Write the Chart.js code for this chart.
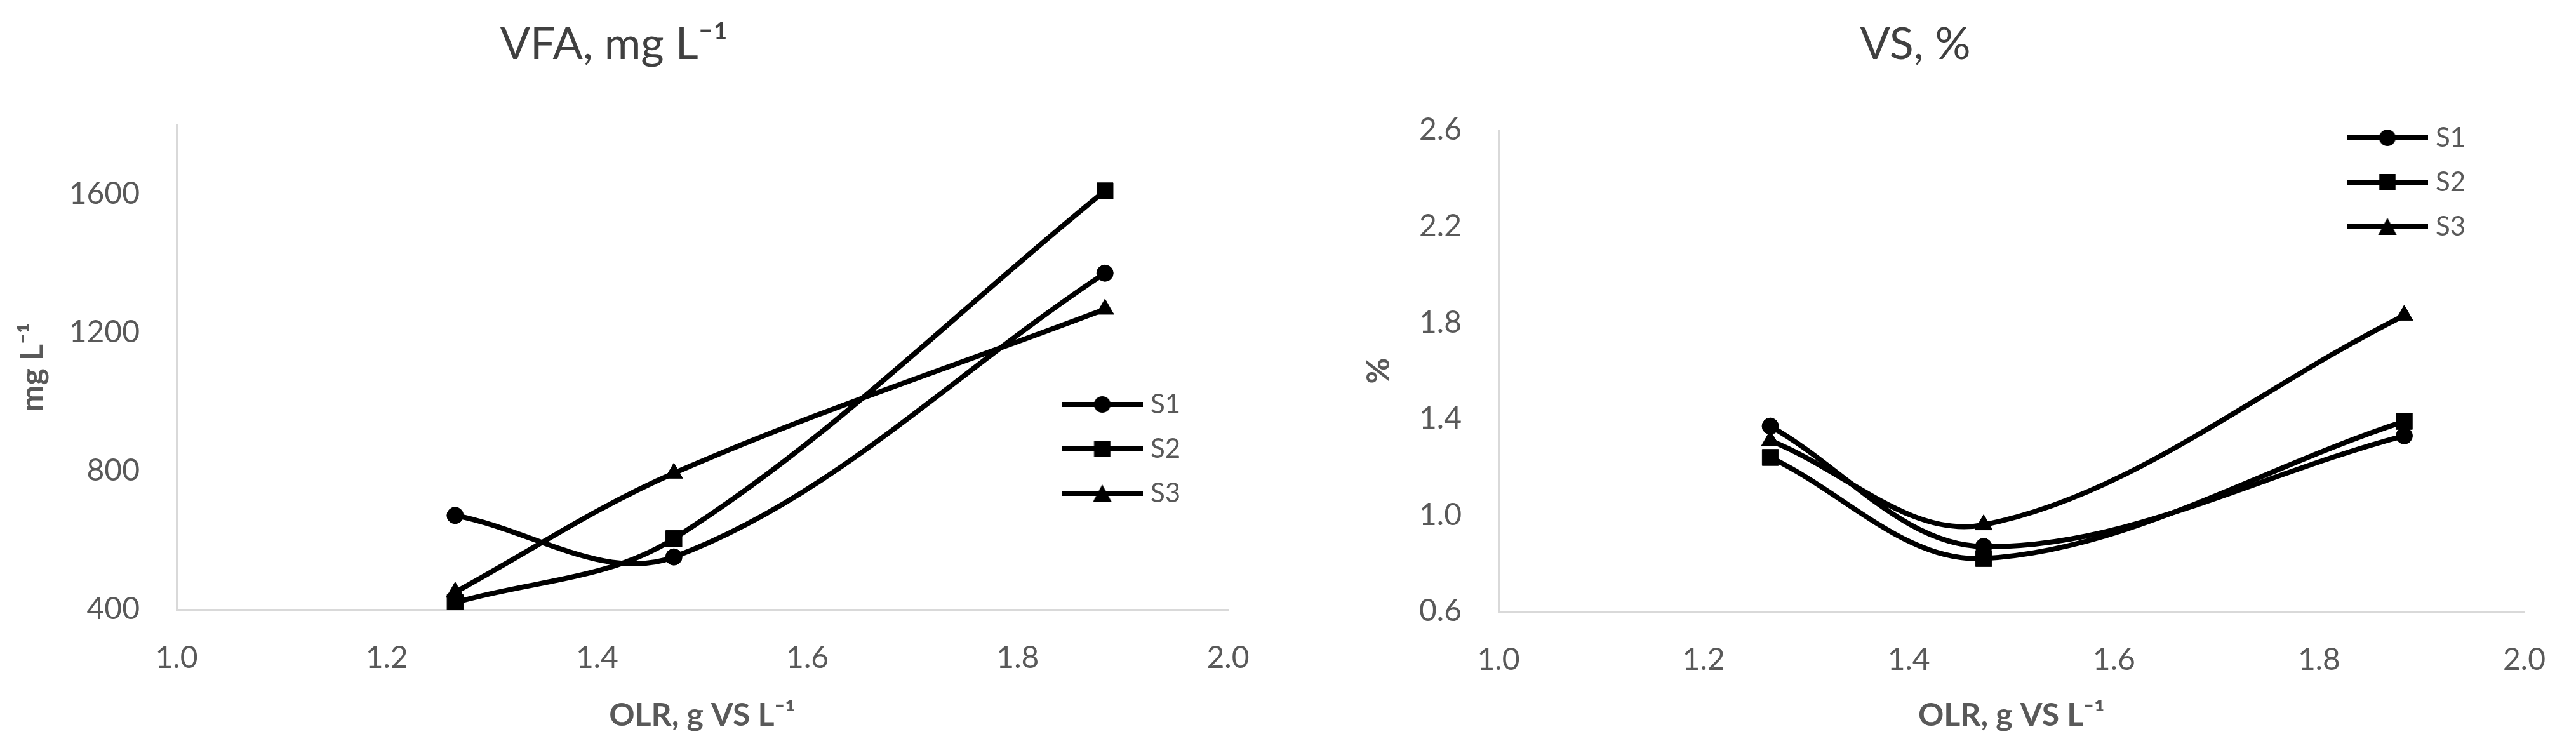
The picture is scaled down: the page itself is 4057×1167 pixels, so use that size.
<!DOCTYPE html>
<html>
<head>
<meta charset="utf-8">
<script src="https://cdn.jsdelivr.net/npm/chart.js@4.4.1/dist/chart.umd.min.js"></script>
<style>
    body { margin: 0; background: #fff; width: 4057px; height: 1167px; overflow: hidden; position: relative; }
    canvas { position: absolute; top: 0; }
    #vfa { left: 0; }
    #vs { left: 2028px; }
</style>
</head>
<body>
<canvas id="vfa" width="2028" height="1167"></canvas>
<canvas id="vs" width="2029" height="1167"></canvas>
<script>
// OLR (g VS L-1) for the three sampling points
const olr = [1.265, 1.473, 1.883];
const seriesNames = ['S1', 'S2', 'S3'];

// VFA, mg L-1
const vfaS1 = [672, 552, 1372];
const vfaS2 = [420, 605, 1610];
const vfaS3 = [450, 794, 1268];

// VS, %
const vsS1 = [1.37, 0.87, 1.33];
const vsS2 = [1.24, 0.82, 1.39];
const vsS3 = [1.31, 0.96, 1.83];

const xTicks = [1.0, 1.2, 1.4, 1.6, 1.8, 2.0];
const vfaTicks = [400, 800, 1200, 1600];
const vsTicks = [0.6, 1.0, 1.4, 1.8, 2.2, 2.6];

const FONT = 'Lato';
const GREY = '#595959';
const markers = ['circle', 'rect', 'triangle'];
const markerRadius = { circle: 13, rect: 18, triangle: 16 };

// line + marker icon for the legend, like Excel does it
function legendIcon(style) {
    let c = document.createElement('canvas');
    c.width = 127; c.height = 34;
    let g = c.getContext('2d');
    g.strokeStyle = '#000'; g.lineWidth = 8;
    g.beginPath(); g.moveTo(0, 17); g.lineTo(127, 17); g.stroke();
    g.fillStyle = '#000';
    g.beginPath();
    if (style === 'circle') g.arc(63.5, 17, 13, 0, Math.PI * 2);
    else if (style === 'rect') g.rect(50.5, 4, 26, 26);
    else { g.moveTo(63.5, 3); g.lineTo(78, 30); g.lineTo(49, 30); g.closePath(); }
    g.fill();
    return c;
}
const icons = markers.map(legendIcon);

// put the legend box where Excel had it, inside the plot
const legendSpot = {
    id: 'legendSpot',
    afterUpdate(chart, args, opts) {
        let lg = chart.legend;
        if (!lg) return;
        let pad = lg.options.labels.padding;
        lg.left = opts.x - pad;
        lg.top = opts.y - pad;
        lg.right = lg.left + 400;
        lg.bottom = lg.top + 400;
    }
};

function makeChart(canvas, cfg) {
    let datasets = cfg.series.map((vals, i) => ({
        label: seriesNames[i],
        data: vals.map((v, j) => ({ x: olr[j], y: v })),
        borderColor: '#000',
        backgroundColor: '#000',
        borderWidth: 8,
        tension: 0.35,
        pointStyle: markers[i],
        pointRadius: markerRadius[markers[i]],
        pointBackgroundColor: '#000',
        pointBorderColor: '#000',
        pointBorderWidth: 1,
    }));
    return new Chart(canvas, {
        type: 'line',
        data: { datasets: datasets },
        options: {
            responsive: false,
            animation: false,
            events: [],
            layout: { padding: { left: 0, right: cfg.padRight, top: 0, bottom: 0 } },
            scales: {
                x: {
                    type: 'linear', min: 1, max: 2,
                    grid: { display: false, drawTicks: false },
                    border: { display: true, color: '#d9d9d9', width: 3 },
                    ticks: { color: GREY, font: { family: FONT, size: 48 }, padding: 48,
                             callback: (v) => v.toFixed(1) },
                    afterBuildTicks: (s) => { s.ticks = xTicks.map(v => ({ value: v })); },
                    afterFit: (s) => { s.height = cfg.xAxisHeight; },
                    title: { display: true, text: 'OLR, g VS L⁻¹', color: GREY,
                             font: { family: FONT, size: 50, weight: 'bold' },
                             padding: { top: 0, bottom: 10 } },
                },
                y: {
                    type: 'linear', min: cfg.yMin, max: cfg.yMax,
                    grid: { display: false, drawTicks: false },
                    border: { display: true, color: '#d9d9d9', width: 3 },
                    ticks: { color: GREY, font: { family: FONT, size: 48 }, padding: 58,
                             callback: cfg.yFormat },
                    afterBuildTicks: (s) => { s.ticks = cfg.yTicks.map(v => ({ value: v })); },
                    afterFit: (s) => { s.width = cfg.yAxisWidth; },
                    title: { display: true, text: cfg.yTitle, color: GREY,
                             font: { family: FONT, size: 50, weight: 'bold' },
                             padding: { top: cfg.yTitlePad, bottom: 0 } },
                },
            },
            plugins: {
                title: { display: true, text: cfg.title, color: '#404040',
                         font: { family: FONT, size: 70, weight: 'normal' },
                         padding: { top: 28, bottom: cfg.titleGap } },
                legend: {
                    position: 'chartArea', align: 'start',
                    labels: {
                        color: GREY, font: { family: FONT, size: 42 }, padding: 28,
                        usePointStyle: true, pointStyleWidth: 110,
                        generateLabels: (chart) => {
                            let items = Chart.defaults.plugins.legend.labels.generateLabels(chart);
                            items.forEach((it, i) => { it.pointStyle = icons[i]; });
                            return items;
                        },
                    },
                },
                tooltip: { enabled: false },
                legendSpot: cfg.legendAt,
            },
        },
        plugins: [legendSpot],
    });
}

makeChart(document.getElementById('vfa'), {
    title: 'VFA, mg L⁻¹',
    series: [vfaS1, vfaS2, vfaS3],
    yMin: 400, yMax: 1800, yTicks: vfaTicks,
    yFormat: (v) => String(v),
    yTitle: 'mg L⁻¹', yTitlePad: 22,
    yAxisWidth: 278, xAxisHeight: 207, padRight: 94, titleGap: 85,
    legendAt: { x: 1681, y: 616 },
});

makeChart(document.getElementById('vs'), {
    title: 'VS, %',
    series: [vsS1, vsS2, vsS3],
    yMin: 0.6, yMax: 2.6, yTicks: vsTicks,
    yFormat: (v) => v.toFixed(1),
    yTitle: '%', yTitlePad: 114,
    yAxisWidth: 332, xAxisHeight: 204, padRight: 52, titleGap: 93,
    legendAt: { x: 1677, y: 196 },
});
</script>
</body>
</html>
